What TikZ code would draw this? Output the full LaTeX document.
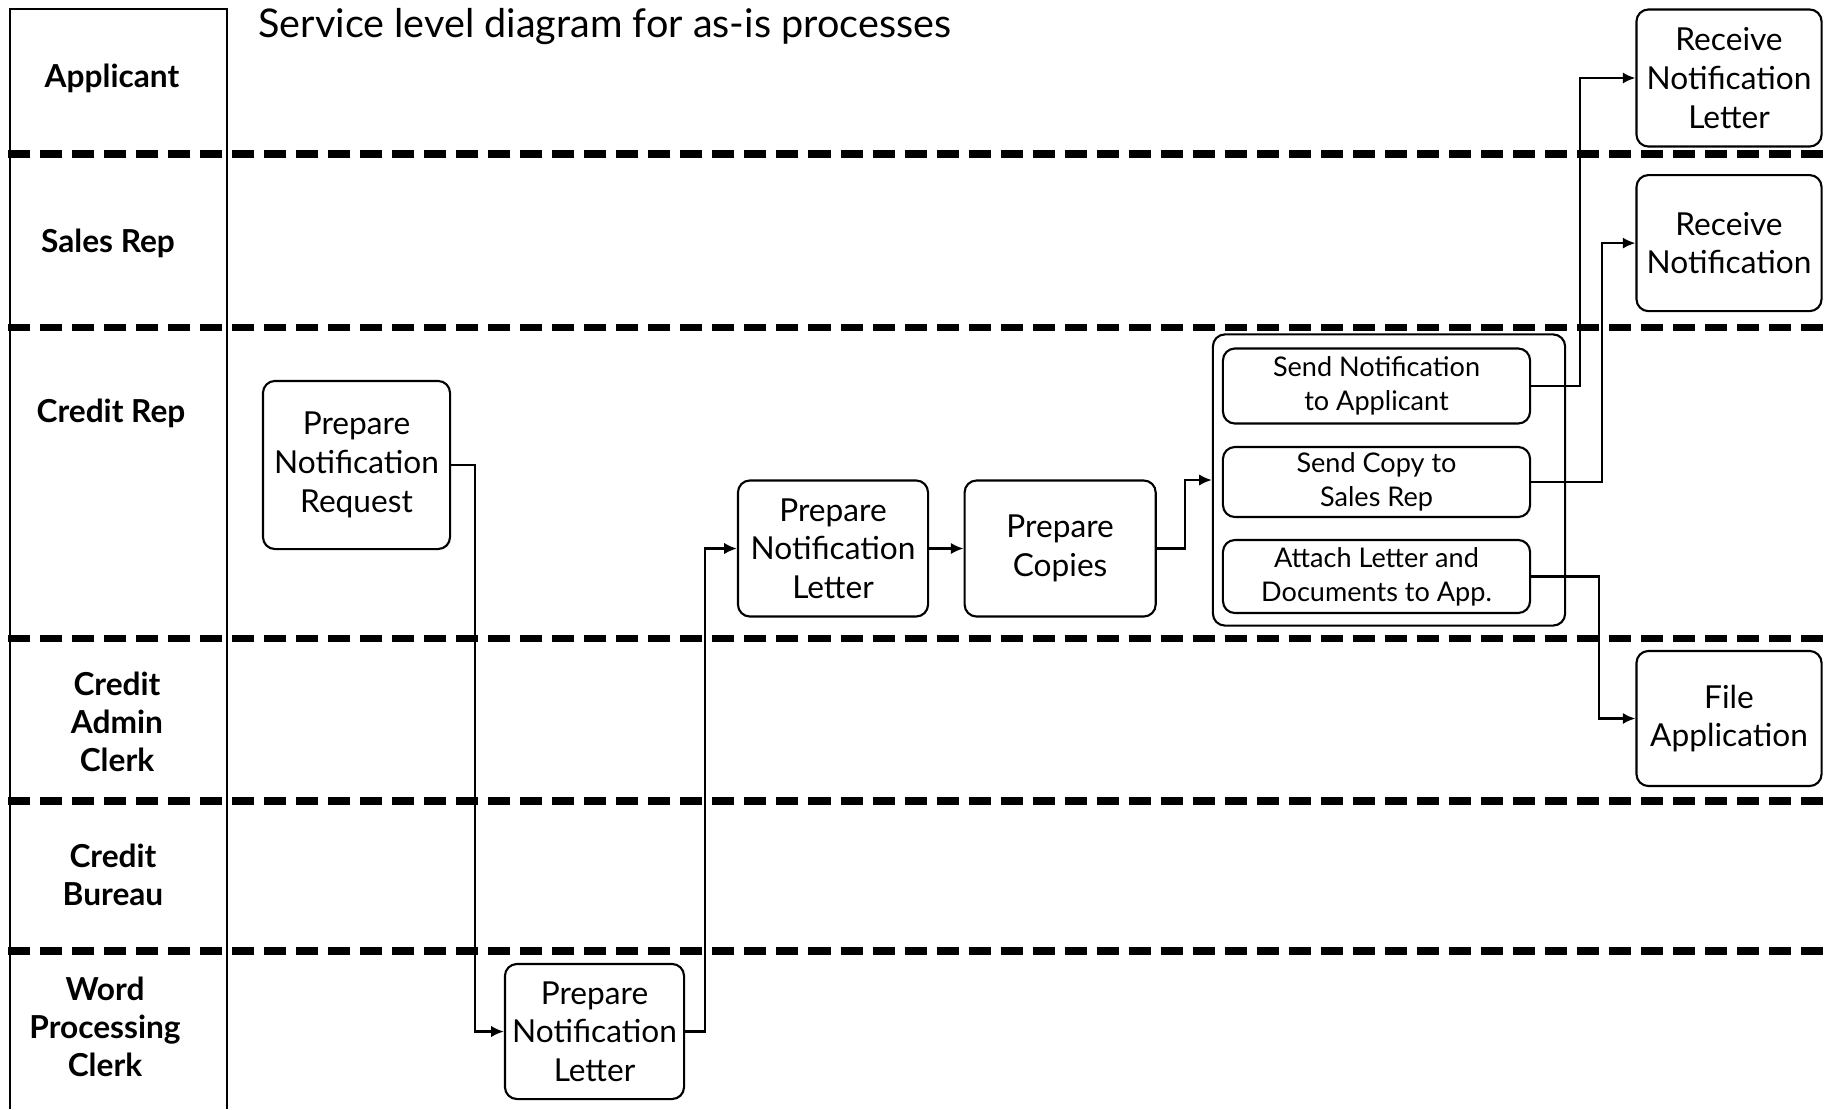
\documentclass[tikz,border=0pt]{standalone}
\usepackage{fontspec}
\setmainfont{Lato}
\usetikzlibrary{shapes, arrows.meta, positioning}

\begin{document}
\begin{tikzpicture}[x=0.01cm, y=-0.01cm, node distance=2cm, >={Latex[length=3.6pt, width=3.2pt]}]
        % Define block styles
        \tikzstyle{task} = [draw, line width=0.6pt, rectangle, rounded corners=0.12cm, align=center, inner sep=0pt, font=\fontsize{9}{11}\selectfont]
        \tikzstyle{subtask} = [task, minimum width=3.07cm, font=\fontsize{7.7}{9.7}\selectfont]
        \tikzstyle{lane} = [align=center, font=\bfseries\fontsize{9}{10.8}\selectfont]
        \tikzstyle{divider} = [line width=2.2pt, dash pattern=on 0.22cm off 0.1cm]
        \tikzstyle{link} = [line width=0.6pt]

        \useasboundingbox (0,0) rectangle (1834,1109);

        % Lanes
        \draw [link] (10,1109) -- (10,9) -- (227,9) -- (227,1109);
        \foreach \y in {154,327.5,638.6,801,951}
            \draw [divider] (8,\y) -- (1825,\y);
        \node [lane] (applicant) at (112,78) {Applicant};
        \node [lane] (salesrep) at (108,243) {Sales Rep};
        \node [lane] (creditrep) at (111,413) {Credit Rep};
        \node [lane] (adminclerk) at (117,722) {Credit\\Admin\\Clerk};
        \node [lane] (bureau) at (113,875) {Credit\\Bureau};
        \node [lane] (wpclerk) at (105,1027) {Word\\Processing\\Clerk};
        \node [anchor=west, font=\fontsize{11.25}{14}\selectfont] (title) at (246,27) {Service level diagram for as-is processes};

        % Nodes
        \node [task, minimum width=1.87cm, minimum height=1.68cm] (pnr) at (356.5,465) {Prepare\\Notification\\Request};
        \node [task, minimum width=1.79cm, minimum height=1.35cm] (wpletter) at (594.5,1031.5) {Prepare\\Notification\\Letter};
        \node [task, minimum width=1.90cm, minimum height=1.36cm] (pnl) at (833,548.5) {Prepare\\Notification\\Letter};
        \node [task, right of=pnl, node distance=2.27cm, minimum width=1.91cm, minimum height=1.36cm] (copies) {Prepare\\Copies};
        \node [task, minimum width=3.52cm, minimum height=2.91cm] (group) at (1389,480) {};
        \node [subtask, minimum height=0.75cm] (sendapp) at (1376.5,386) {Send Notification\\to Applicant};
        \node [subtask, minimum height=0.70cm] (sendrep) at (1376.5,482) {Send Copy to\\Sales Rep};
        \node [subtask, minimum height=0.73cm] (attach) at (1376.5,576.5) {Attach Letter and\\Documents to App.};
        \node [task, minimum width=1.85cm, minimum height=1.37cm] (recvletter) at (1729,78) {Receive\\Notification\\Letter};
        \node [task, below of=recvletter, node distance=1.65cm, minimum width=1.85cm, minimum height=1.36cm] (recvnote) {Receive\\Notification};
        \node [task, minimum width=1.85cm, minimum height=1.35cm] (fileapp) at (1729,718.5) {File\\Application};

        % Edges
        \draw [link, ->] (pnr.east) -- ++(24,0) |- (wpletter.west);
        \draw [link, ->] (wpletter.east) -- ++(20,0) |- (pnl.west);
        \draw [link, ->] (pnl) -- (copies);
        \draw [link, ->] (copies.east) -- ++(28,0) |- (group.west);
        \draw [link, ->] (sendapp.east) -- ++(49,0) |- (recvletter.west);
        \draw [link, ->] (sendrep.east) -- ++(71,0) |- (recvnote.west);
        \draw [link, ->] (attach.east) -- ++(68,0) |- (fileapp.west);
\end{tikzpicture}
\end{document}
